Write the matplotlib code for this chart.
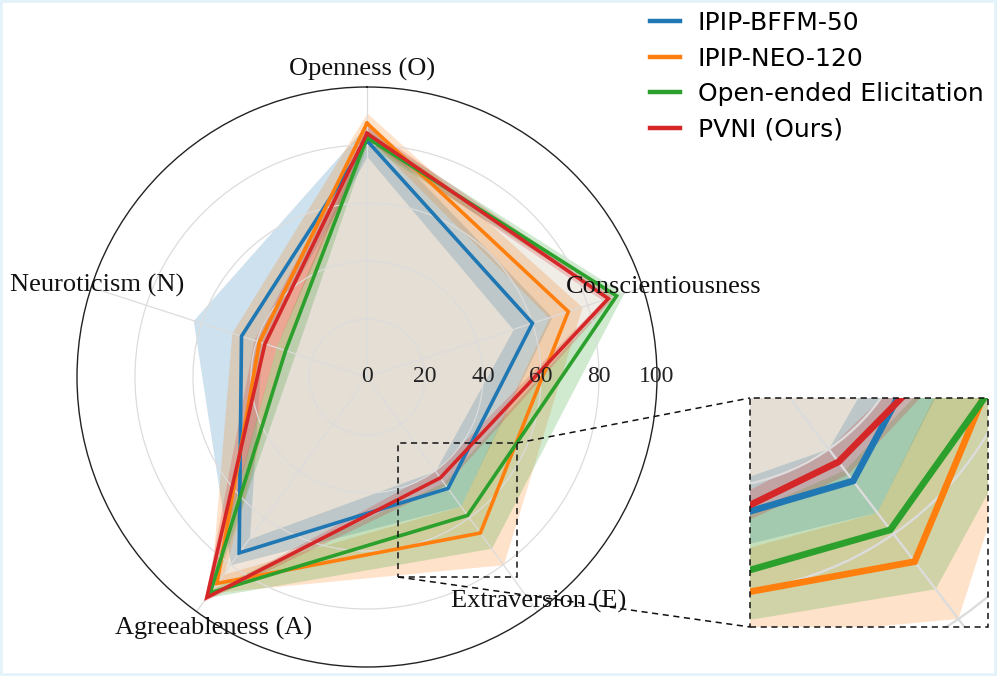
import numpy as np
import matplotlib
matplotlib.use("Agg")
import matplotlib.pyplot as plt
from matplotlib.patches import Rectangle
from matplotlib.lines import Line2D

# ---------------- data ----------------
categories = ["Openness (O)", "Conscientiousness", "Extraversion (E)",
              "Agreeableness (A)", "Neuroticism (N)"]
series_names = ["IPIP-BFFM-50", "IPIP-NEO-120", "Open-ended Elicitation", "PVNI (Ours)"]
colors = ["#1f77b4", "#ff7f0e", "#2ca02c", "#d62728"]

bffm_mean = [81.5, 60.0, 47.5, 75.0, 45.5]
bffm_low = [76.0, 53.0, 40.0, 69.0, 38.0]
bffm_high = [87.0, 67.0, 55.0, 80.0, 63.0]

neo_mean = [87.5, 73.0, 66.5, 88.0, 39.0]
neo_low = [83.0, 66.0, 55.0, 84.0, 30.0]
neo_high = [91.0, 78.0, 80.0, 92.0, 49.0]

open_mean = [82.5, 90.5, 59.0, 92.0, 29.5]
open_low = [80.0, 88.0, 45.0, 90.0, 26.0]
open_high = [85.0, 93.0, 73.0, 94.0, 33.0]

pvni_mean = [84.0, 87.5, 43.0, 94.0, 37.0]
pvni_low = [81.5, 85.5, 40.0, 92.5, 33.0]
pvni_high = [86.5, 89.5, 46.0, 95.5, 41.0]

radial_ticks = [0, 20, 40, 60, 80, 100]

means = [bffm_mean, neo_mean, open_mean, pvni_mean]
lows = [bffm_low, neo_low, open_low, pvni_low]
highs = [bffm_high, neo_high, open_high, pvni_high]

# ---------------- layout ----------------
W, H = 997, 676
fig = plt.figure(figsize=(W / 100, H / 100), dpi=100)
fig.patch.set_facecolor("white")

def fx(px):
    return px / W

def fy(py):
    return 1 - py / H

CX, CY, R = 367, 377, 290          # centre / radius of main radar (pixels)
ax = fig.add_axes([fx(CX - R), fy(CY + R), 2 * R / W, 2 * R / H], projection="polar")

n = len(categories)
theta = np.linspace(0, 2 * np.pi, n, endpoint=False)
theta_c = np.append(theta, theta[0])

def close(v):
    v = list(v)
    return np.array(v + v[:1])

def setup(a, grid_lw):
    a.set_theta_offset(np.pi / 2)
    a.set_theta_direction(-1)
    a.set_ylim(0, 100)
    a.set_xticks(theta)
    a.set_yticks(radial_ticks[1:-1])
    a.set_xticklabels([])
    a.set_yticklabels([])
    a.tick_params(length=0)
    a.grid(True, color="#dcdcdc", lw=grid_lw)
    a.set_facecolor("none")

def draw_series(a, lw):
    handles = []
    for m, lo, hi, c in zip(means, lows, highs, colors):
        a.fill(theta_c, close(m), color=c, alpha=0.06, lw=0)
        a.fill_between(theta_c, close(lo), close(hi), color=c, alpha=0.22, lw=0)
    for m, c, name in zip(means, colors, series_names):
        h, = a.plot(theta_c, close(m), color=c, lw=lw, label=name,
                    solid_joinstyle="miter")
        handles.append(h)
    return handles

setup(ax, 0.9)
handles = draw_series(ax, 2.6)
ax.spines["polar"].set_color("#222222")
ax.spines["polar"].set_linewidth(1.0)

serif = ["Liberation Serif", "DejaVu Serif"]

# radial tick labels along the horizontal (east) direction
for t in radial_ticks:
    ax.text(np.deg2rad(90), t, str(t), ha="center", va="center",
            fontsize=17, family=serif, color="#222222", zorder=6)

# category labels (theta in degrees of data, radius)
label_pos = [(-1.0, 106.2), (73.1, 106.9), (142.6, 97.6), (211.4, 101.4), (288.7, 98.1)]
for lab, (td, rr) in zip(categories, label_pos):
    ax.text(np.deg2rad(td), rr, lab, ha="center", va="center", fontsize=19,
            family=serif, color="#111111", clip_on=False, zorder=7)

# ---------------- inset (zoom on Extraversion) ----------------
IX0, IY0, IX1, IY1 = 750, 398, 988, 627         # inset box pixels
ZX0, ZY0, ZX1, ZY1 = 398, 443, 517, 577         # zoom rectangle pixels
SX, SY = 1.9, 1.81                               # magnification
OX, OY = 393.7, 442.6                            # main point mapped to inset corner
c2x = IX0 + SX * (CX - OX)
c2y = IY0 + SY * (CY - OY)
ax2 = fig.add_axes([fx(c2x - R * SX), fy(c2y + R * SY), 2 * R * SX / W, 2 * R * SY / H],
                   projection="polar")
ax2.set_aspect("auto")
setup(ax2, 1.7)
draw_series(ax2, 2.6 * 1.85)
for sp in ax2.spines.values():
    sp.set_visible(False)
ax2.patch.set_visible(False)

clip = Rectangle((fx(IX0), fy(IY1)), (IX1 - IX0) / W, (IY1 - IY0) / H,
                 transform=fig.transFigure, facecolor="none", edgecolor="none")
for art in list(ax2.lines) + list(ax2.collections) + list(ax2.patches):
    art.set_clip_path(clip)
ax2.xaxis.set_clip_path(clip)
ax2.yaxis.set_clip_path(clip)

dash = dict(color="#111111", lw=1.1, ls=(0, (4, 3)))
fig.add_artist(Rectangle((fx(IX0), fy(IY1)), (IX1 - IX0) / W, (IY1 - IY0) / H,
                         transform=fig.transFigure, fill=False, zorder=10, **dash))
fig.add_artist(Rectangle((fx(ZX0), fy(ZY1)), (ZX1 - ZX0) / W, (ZY1 - ZY0) / H,
                         transform=fig.transFigure, fill=False, zorder=10, **dash))
fig.add_artist(Line2D([fx(ZX1), fx(IX0)], [fy(ZY0), fy(IY0)],
                      transform=fig.transFigure, zorder=10, **dash))
fig.add_artist(Line2D([fx(ZX0), fx(IX0)], [fy(ZY1), fy(IY1)],
                      transform=fig.transFigure, zorder=10, **dash))

# ---------------- legend ----------------
leg = fig.legend(handles=handles, labels=series_names, loc="upper left",
                 bbox_to_anchor=(fx(650), fy(11)), frameon=False, fontsize=18,
                 handlelength=1.2, handletextpad=0.7, labelspacing=0.46,
                 borderpad=0, borderaxespad=0)
for lh in leg.get_lines():
    lh.set_linewidth(3.2)

# light frame around the picture
fig.add_artist(Rectangle((0, 0), 1, 1, transform=fig.transFigure, fill=False,
                         edgecolor="#e4f2f9", lw=4, zorder=20))

fig.savefig("out.png", dpi=100)
